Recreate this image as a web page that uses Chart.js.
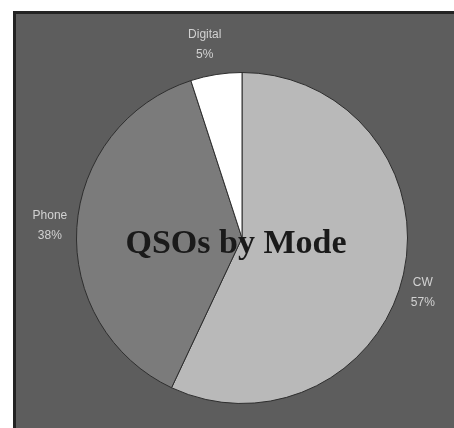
<!DOCTYPE html>
<html><head><meta charset="utf-8">
<script src="https://cdn.jsdelivr.net/npm/chart.js@4/dist/chart.umd.min.js"></script>
<style>
html,body{margin:0;padding:0;background:#fff;width:454px;height:428px;overflow:hidden;}
#panel{position:absolute;left:13px;top:11px;width:438px;height:414px;background:#5d5d5d;border-left:3px solid #232323;border-top:3px solid #232323;}
canvas{display:block;}
</style></head><body>
<div id="panel"><canvas id="c" width="438" height="414"></canvas></div>
<script>
const categories = ["CW", "Phone", "Digital"];
const percents = [57, 38, 5];
const sliceColors = ["#b9b9b9", "#7b7b7b", "#ffffff"];
const chartTitle = "QSOs by Mode";

const labelNudge = [[-8, 12], [1, 0], [-7, -2]];

const outsideLabels = {
  id: 'outsideLabels',
  afterDatasetsDraw(chart) {
    const ctx = chart.ctx;
    const meta = chart.getDatasetMeta(0);
    ctx.save();
    ctx.fillStyle = '#d2d2d2';
    ctx.font = '12px "Liberation Sans", Arial, sans-serif';
    ctx.textAlign = 'center';
    ctx.textBaseline = 'middle';
    meta.data.forEach((arc, i) => {
      const p = arc.getProps(['x','y','startAngle','endAngle','outerRadius'], true);
      const mid = (p.startAngle + p.endAngle) / 2;
      const d = p.outerRadius + 28;
      const lx = p.x + Math.cos(mid) * d + labelNudge[i][0];
      const ly = p.y + Math.sin(mid) * d + labelNudge[i][1];
      ctx.fillText(categories[i], lx, ly - 10);
      ctx.fillText(percents[i] + '%', lx, ly + 10);
    });
    const a = meta.data[0];
    ctx.fillStyle = '#1a1a1a';
    ctx.font = 'bold 34px "Liberation Serif", "Times New Roman", serif';
    ctx.textBaseline = 'alphabetic';
    ctx.fillText(chartTitle, a.x - 6, a.y + 15);
    ctx.restore();
  }
};

new Chart(document.getElementById('c'), {
  type: 'pie',
  data: {
    labels: categories,
    datasets: [{
      data: percents,
      backgroundColor: sliceColors,
      borderColor: '#2e2e2e',
      borderWidth: 1
    }]
  },
  options: {
    responsive: false,
    animation: false,
    layout: { padding: { left: 60, top: 57, right: 46, bottom: 23 } },
    plugins: { legend: { display: false }, tooltip: { enabled: false }, title: { display: false } }
  },
  plugins: [outsideLabels]
});
</script>
</body></html>
